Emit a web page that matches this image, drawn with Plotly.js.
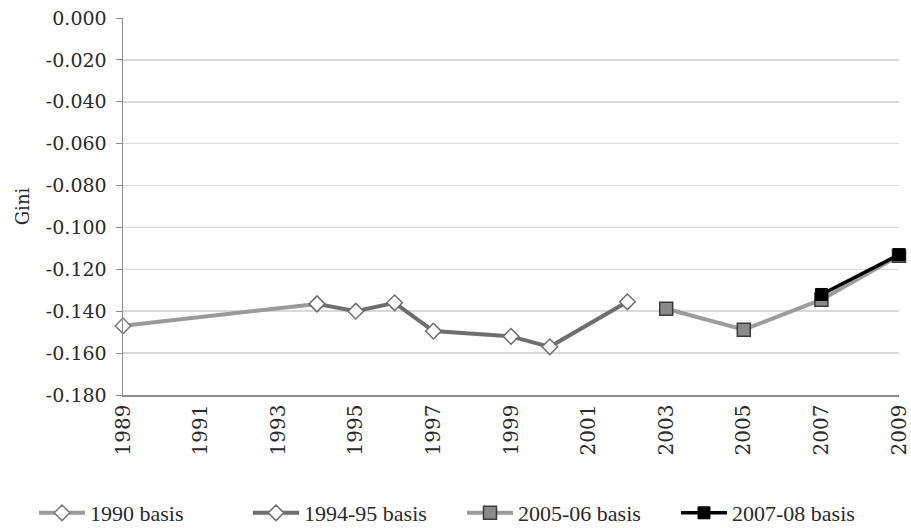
<!DOCTYPE html>
<html><head><meta charset="utf-8">
<script src="https://cdn.plot.ly/plotly-3.0.1.min.js"></script>
<style>body{margin:0;background:#fff}#c{width:911px;height:528px}</style>
</head><body><div id="c"></div>
<script>
var years1990 = [1989, 1994];
var gini1990 = [-0.147, -0.1365];
var years9495 = [1994, 1995, 1996, 1997, 1999, 2000, 2002];
var gini9495 = [-0.1365, -0.140, -0.136, -0.1495, -0.152, -0.157, -0.1355];
var years0506 = [2003, 2005, 2007, 2009];
var gini0506 = [-0.1388, -0.1488, -0.1345, -0.1135];
var years0708 = [2007, 2009];
var gini0708 = [-0.132, -0.113];
var xTicks = [1989,1991,1993,1995,1997,1999,2001,2003,2005,2007,2009];
var yTicks = [0,-0.02,-0.04,-0.06,-0.08,-0.1,-0.12,-0.14,-0.16,-0.18];

var serif = "DejaVu Serif, Liberation Serif, serif";
var legendFont = "Liberation Serif, serif";
var traces = [
  {x: years1990, y: gini1990, name: '1990 basis', mode: 'lines+markers', cliponaxis: false,
   line: {color: '#9a9a9a', width: 4},
   marker: {symbol: 'diamond', size: 12, color: '#ffffff', line: {color: '#7a7a7a', width: 1.5}}},
  {x: years9495, y: gini9495, name: '1994-95 basis', mode: 'lines+markers', cliponaxis: false,
   line: {color: '#6e6e6e', width: 4},
   marker: {symbol: 'diamond', size: 12, color: '#ffffff', line: {color: '#6e6e6e', width: 1.5}}},
  {x: years0506, y: gini0506, name: '2005-06 basis', mode: 'lines+markers', cliponaxis: false,
   line: {color: '#9c9c9c', width: 4},
   marker: {symbol: 'square', size: 13, color: '#8a8a8a', line: {color: '#3a3a3a', width: 1.5}}},
  {x: years0708, y: gini0708, name: '2007-08 basis', mode: 'lines+markers', cliponaxis: false,
   line: {color: '#000000', width: 3.5},
   marker: {symbol: 'square', size: 12, color: '#000000', line: {color: '#000000', width: 1}}}
];
var layout = {
  width: 911, height: 528,
  margin: {l: 123, r: 12, t: 18, b: 133, autoexpand: false},
  paper_bgcolor: '#ffffff', plot_bgcolor: '#ffffff',
  font: {family: serif, color: '#2a2a2a', size: 19},
  showlegend: true,
  legend: {orientation: 'h', xref: 'paper', yref: 'paper', x: -0.1147, y: -0.313, xanchor: 'left', yanchor: 'middle',
           font: {family: legendFont, size: 22, color: '#2a2a2a'}, traceorder: 'normal', itemwidth: 46,
           entrywidth: 153, entrywidthmode: 'pixels'},
  xaxis: {range: [1989, 2009], tickvals: xTicks, ticktext: xTicks.map(String), tickangle: -90,
          showgrid: false, zeroline: false, showline: true, linecolor: '#8c8c8c', linewidth: 1.5,
          ticks: '', tickfont: {family: serif, size: 20, color: '#2a2a2a'}, fixedrange: true},
  yaxis: {range: [-0.18, 0], tickvals: yTicks, ticktext: yTicks.map(function(v){return v.toFixed(3);}),
          showgrid: true, gridcolor: '#d9d9d9', gridwidth: 1.5, zeroline: false, showline: true,
          linecolor: '#8c8c8c', linewidth: 1.5, ticks: 'outside', ticklen: 6, tickcolor: '#8c8c8c',
          ticklabelstandoff: 5,
          tickfont: {family: serif, size: 19, color: '#2a2a2a'},
          title: {text: 'Gini', font: {family: serif, size: 18, color: '#2a2a2a'}, standoff: 11}, fixedrange: true}
};
Plotly.newPlot('c', traces, layout, {displayModeBar: false, staticPlot: true});
</script>
</body></html>
